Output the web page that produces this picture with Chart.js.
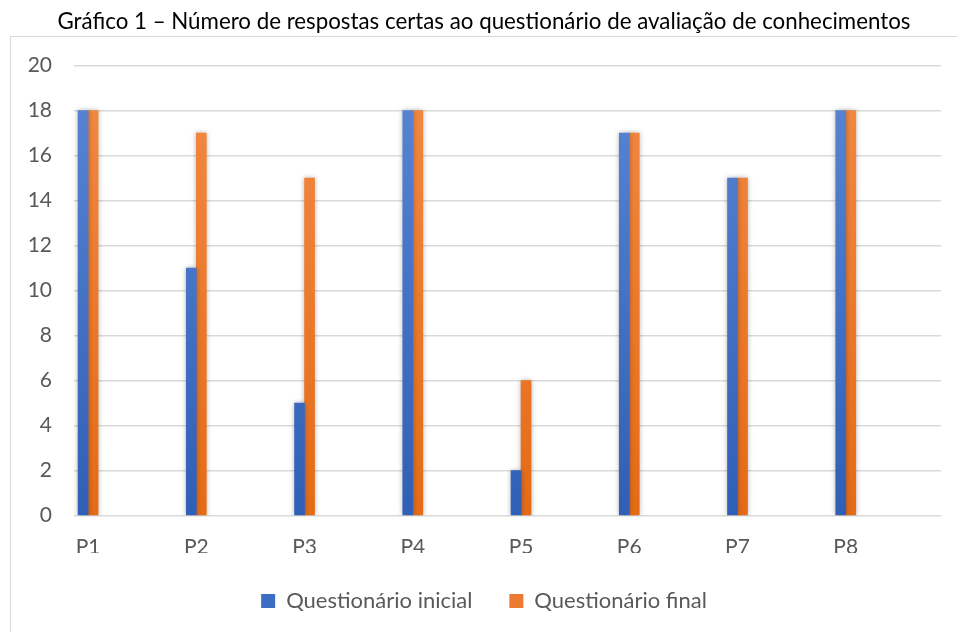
<!DOCTYPE html>
<html>
<head>
<meta charset="utf-8">
<script src="https://cdn.jsdelivr.net/npm/chart.js@4"></script>
<style>
  body { margin: 0; background: #fff; }
  #wrap { width: 957px; height: 632px; }
</style>
</head>
<body>
<div id="wrap"><canvas id="myChart"></canvas></div>
<script>
// dados do gráfico
const categorias = ['P1', 'P2', 'P3', 'P4', 'P5', 'P6', 'P7', 'P8'];
const questionarioInicial = [18, 11, 5, 18, 2, 17, 15, 18];
const questionarioFinal = [18, 17, 15, 18, 6, 17, 15, 18];
const yTicks = [0, 2, 4, 6, 8, 10, 12, 14, 16, 18, 20];

const fonte = 'Lato, "Open Sans", sans-serif';

function gradiente(ctx, topo, base) {
  const area = ctx.chart.chartArea;
  if (!area) return base;
  const g = ctx.chart.ctx.createLinearGradient(0, area.top, 0, area.bottom);
  g.addColorStop(0, topo);
  g.addColorStop(1, base);
  return g;
}

// moldura cinza e sombra das barras
const moldura = {
  id: 'moldura',
  beforeDraw(chart) {
    const c = chart.ctx;
    c.save();
    c.strokeStyle = '#d9d9d9';
    c.lineWidth = 1;
    c.strokeRect(10.5, 36.5, 960, 700);
    c.restore();
  },
  beforeDatasetsDraw(chart) {
    const c = chart.ctx;
    c.save();
    c.shadowColor = 'rgba(0,0,0,0.3)';
    c.shadowBlur = 5;
  },
  afterDatasetsDraw(chart) {
    chart.ctx.restore();
  }
};

const ctx = document.getElementById('myChart');

new Chart(ctx, {
  type: 'bar',
  data: {
    datasets: [{
      label: 'Questionário inicial',
      data: questionarioInicial.map((v, i) => ({ x: i + 1, y: v })),
      backgroundColor: c => gradiente(c, '#5a86d4', '#2f5fb6'),
      barThickness: 10
    }, {
      label: 'Questionário final',
      data: questionarioFinal.map((v, i) => ({ x: i + 1, y: v })),
      backgroundColor: c => gradiente(c, '#f38a45', '#e56b16'),
      barThickness: 10
    }]
  },
  plugins: [moldura],
  options: {
    responsive: true,
    maintainAspectRatio: false,
    animation: false,
    layout: { padding: { left: 27, right: 16, top: 0, bottom: 19 } },
    plugins: {
      title: {
        display: true,
        text: 'Gráfico 1 – Número de respostas certas ao questionário de avaliação de conhecimentos',
        color: '#000',
        font: { family: fonte, size: 22.3, weight: 'normal' },
        padding: { top: 8.6, bottom: 30.3 }
      },
      legend: {
        position: 'bottom',
        maxHeight: 60,
        labels: {
          color: '#595959',
          font: { family: fonte, size: 22 },
          boxWidth: 14,
          boxHeight: 14,
          padding: 37,
          generateLabels: chart => chart.data.datasets.map((d, i) => ({
            text: d.label,
            fillStyle: i === 0 ? '#3d6cc4' : '#ec7a30',
            strokeStyle: 'transparent',
            lineWidth: 0,
            fontColor: '#595959',
            datasetIndex: i
          }))
        }
      },
      tooltip: { enabled: false }
    },
    scales: {
      x: {
        type: 'linear',
        min: 0.87,
        max: 8.88,
        offset: false,
        grid: { display: false, drawTicks: false },
        border: { display: false },
        ticks: {
          stepSize: 1,
          includeBounds: false,
          padding: 19,
          color: '#595959',
          font: { family: fonte, size: 21 },
          callback: v => categorias[v - 1] || ''
        },
        afterFit: s => { s.height = 37.3; }
      },
      y: {
        min: 0,
        max: 20,
        grid: { color: '#d9d9d9', lineWidth: 1.5, drawTicks: false },
        border: { display: false },
        afterBuildTicks: s => { s.ticks = yTicks.map(v => ({ value: v })); },
        ticks: {
          padding: 22,
          color: '#595959',
          font: { family: fonte, size: 21 }
        },
        afterFit: s => { s.width = 47; }
      }
    }
  }
});
</script>
</body>
</html>
